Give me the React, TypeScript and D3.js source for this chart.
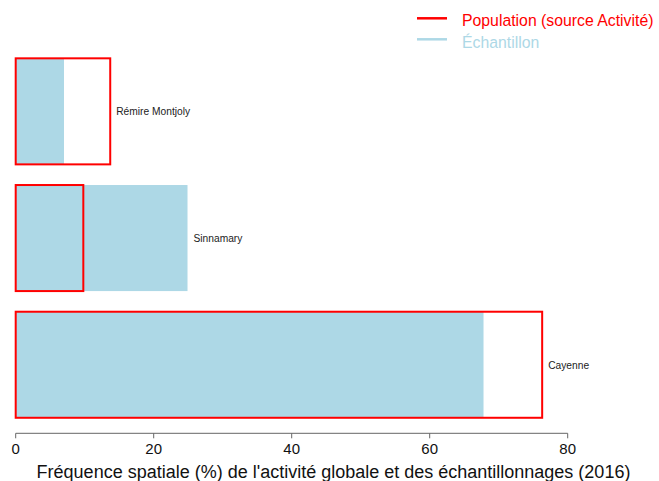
import React from "react";
import * as d3 from "d3";

const categories = ["Rémire Montjoly", "Sinnamary", "Cayenne"];
const population = [13.7, 9.8, 76.3];
const echantillon = [7.0, 24.9, 67.8];
const xTicks = [0, 20, 40, 60, 80];
const legendLabels = ["Population (source Activité)", "Échantillon"];
const axisTitle = "Fréquence spatiale (%) de l'activité globale et des échantillonnages (2016)";

const W = 659;
const H = 481;
const RED = "#FF0000";
const BLUE = "#ADD8E6";
const FONT = "'Liberation Sans', Arial, sans-serif";

export default function App() {
  const x = d3.scaleLinear().domain([0, 80]).range([15.7, 567.7]);
  const y = d3
    .scaleBand<string>()
    .domain(categories)
    .range([48, 428.1])
    .paddingInner(0.163)
    .paddingOuter(0.0815);
  const bw = y.bandwidth();
  const axisY = 433.3;

  const labelScale = 0.89;
  const legendScale = 0.93;

  return (
    <svg
      width={W}
      height={H}
      style={{ position: "absolute", left: 0, top: 0, background: "#fff" }}
      fontFamily={FONT}
    >
      {categories.map((c, i) => {
        const lx = x(Math.max(population[i], echantillon[i])) + 6;
        const ly = y(c)! + bw / 2 + 4;
        return (
          <g key={c}>
            <rect
              x={x(0)}
              y={y(c)!}
              width={x(echantillon[i]) - x(0)}
              height={bw}
              fill={BLUE}
            />
            <rect
              x={x(0)}
              y={y(c)!}
              width={x(population[i]) - x(0)}
              height={bw}
              fill="none"
              stroke={RED}
              strokeWidth={2}
            />
            <text
              transform={`translate(${lx},${ly}) scale(${labelScale},1)`}
              fontSize={11.5}
              fill="#222"
            >
              {c}
            </text>
          </g>
        );
      })}

      <g>
        <line x1={x(0)} x2={x(80)} y1={axisY} y2={axisY} stroke="#666" strokeWidth={1} />
        {xTicks.map((t) => (
          <g key={t}>
            <line x1={x(t)} x2={x(t)} y1={axisY} y2={axisY + 5} stroke="#666" strokeWidth={1} />
            <text x={x(t)} y={454} textAnchor="middle" fontSize={15} fill="#111">
              {t}
            </text>
          </g>
        ))}
        <text x={(38 + 629) / 2} y={478} textAnchor="middle" fontSize={18} fill="#111">
          {axisTitle}
        </text>
      </g>

      <g>
        <line x1={417} x2={447} y1={18.3} y2={18.3} stroke={RED} strokeWidth={2.5} />
        <text transform={`translate(462,25.7) scale(${legendScale},1)`} fontSize={17} fill={RED}>
          {legendLabels[0]}
        </text>
        <line x1={417} x2={447} y1={39.3} y2={39.3} stroke={BLUE} strokeWidth={2.5} />
        <text transform={`translate(462,47.7) scale(${legendScale},1)`} fontSize={17} fill={BLUE}>
          {legendLabels[1]}
        </text>
      </g>
    </svg>
  );
}
